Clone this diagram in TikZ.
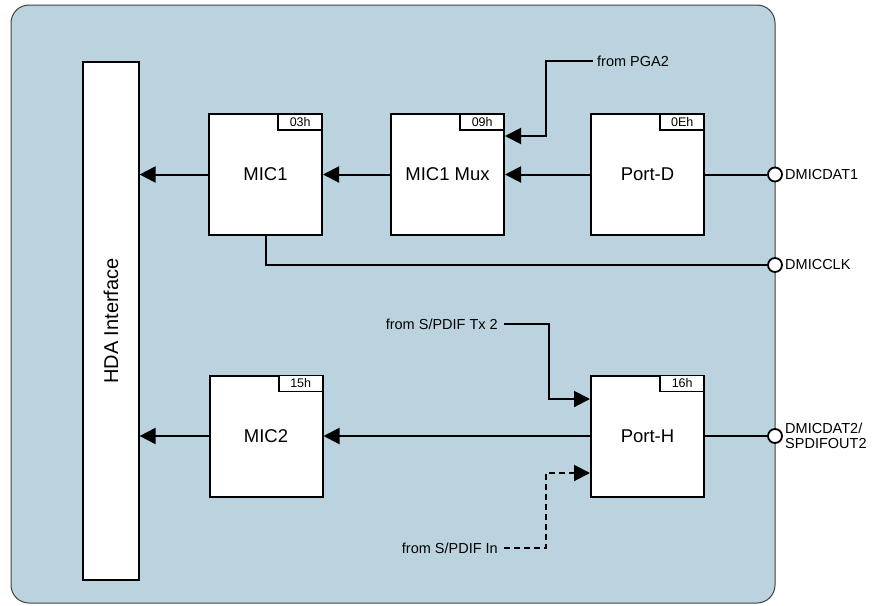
\documentclass[tikz,border=0pt]{standalone}
\usepackage{fontspec}
\setmainfont{Liberation Sans}
\usepackage{xcolor}
\usetikzlibrary{arrows.meta,positioning,calc}

\definecolor{codecbg}{RGB}{186,211,222}

\begin{document}
\begin{tikzpicture}[x=1pt, y=-1pt,
  widget/.style={draw, line width=2pt, fill=white, minimum width=113pt, minimum height=121pt, inner sep=0pt, font=\fontsize{18.5}{20}\selectfont},
  nidtag/.style={draw, line width=1.6pt, fill=white, minimum width=44pt, minimum height=16pt, inner sep=0pt, anchor=north east, font=\fontsize{12.5}{13}\selectfont},
  pin/.style={circle, draw, line width=1.8pt, fill=white, minimum size=14pt, inner sep=0pt},
  pinlabel/.style={anchor=west, align=left, inner sep=0pt, font=\fontsize{14.5}{15}\selectfont},
  srclabel/.style={inner sep=0pt, font=\fontsize{14.5}{15}\selectfont},
  sig/.style={line width=2pt, -{Triangle[length=16pt, width=16pt]}},
  wire/.style={line width=2pt}]

\useasboundingbox (0,0) rectangle (885,605);

% Codec background
\draw[fill=codecbg, draw=black!75, line width=1pt, rounded corners=18pt] (11,5) rectangle (775,603);

% HDA interface bar
\node[draw, line width=1.2pt, fill=white, minimum width=56pt, minimum height=518pt, inner sep=0pt] (hda) at (111,321) {};
\node[rotate=90, font=\fontsize{20}{21}\selectfont] at (hda.center) {HDA Interface};

% Widgets, upper path
\node[widget] (mic1) at (265.5,174.5) {MIC1};
\node[nidtag] at (mic1.north east) {03h};
\node[widget] (mux) at (447.5,174.5) {MIC1 Mux};
\node[nidtag] at (mux.north east) {09h};
\node[widget] (portd) at (647.5,174.5) {Port-D};
\node[nidtag] at (portd.north east) {0Eh};

% Widgets, lower path
\node[widget] (mic2) at (266,436) {MIC2};
\node[nidtag] at (mic2.north east) {15h};
\node[widget] (porth) at (647.5,436) {Port-H};
\node[nidtag] at (porth.north east) {16h};

% Pins
\node[pin] (dat1) at (775,174.5) {};
\node[pinlabel] at (785,174.5) {DMICDAT1};
\node[pin] (clk) at (775,265) {};
\node[pinlabel] at (785,265) {DMICCLK};
\node[pin] (dat2) at (775,436) {};
\node[pinlabel] at (785,436) {DMICDAT2/\\SPDIFOUT2};

% Outside sources
\node[srclabel, anchor=west] (pga) at (597,61) {from PGA2};
\node[srclabel, anchor=east] (txtwo) at (498,324) {from S/PDIF Tx 2};
\node[srclabel, anchor=east] (spdifin) at (498,548) {from S/PDIF In};

% Upper path
\draw[wire] (portd.east) -- (dat1.west);
\draw[sig] (portd.west) -- (mux.east);
\draw[sig] (mux.west) -- (mic1.east);
\draw[sig] (mic1.west) -- (mic1.west -| hda.east);
\draw[sig] (pga.west) ++(-4,0) -- (546,61) |- ([yshift=38.5pt]mux.east);
\draw[wire] (mic1.south) |- (clk.west);

% Lower path
\draw[wire] (porth.east) -- (dat2.west);
\draw[sig] (porth.west) -- (mic2.east);
\draw[sig] (mic2.west) -- (mic2.west -| hda.east);
\draw[sig] (txtwo.east) ++(6,0) -- (549,324) |- ([yshift=37pt]porth.west);
\draw[sig, dashed, dash pattern=on 6pt off 4pt] (spdifin.east) ++(6,0) -- (546,548) |- ([yshift=-37pt]porth.west);

\end{tikzpicture}
\end{document}
